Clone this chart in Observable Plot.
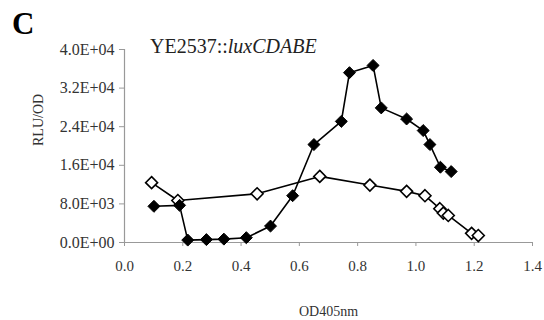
<!DOCTYPE html>
<html>
<head>
<meta charset="utf-8">
<script src="https://cdn.jsdelivr.net/npm/d3@7"></script>
<script src="https://cdn.jsdelivr.net/npm/@observablehq/plot@0.6"></script>
<style>
  html, body { margin: 0; padding: 0; background: #fff; }
  #wrap { position: relative; width: 544px; height: 320px; overflow: hidden; font-family: 'Liberation Serif', 'Times New Roman', serif; }
  #wrap svg { position: absolute; left: 0; top: 0; }
  #wrap svg text { font-family: 'Liberation Serif', 'Times New Roman', serif; }
  #panel { position: absolute; left: 12px; top: 6px; font-size: 31px; font-weight: bold; }
  #title { position: absolute; left: 150px; top: 35px; font-size: 20px; white-space: nowrap; color: #222; }
</style>
</head>
<body>
<div id="wrap">
  <div id="panel">C</div>
  <div id="title">YE2537::<i>luxCDABE</i></div>
</div>
<script>
// Filled diamonds series
const filledOD = [0.101, 0.189, 0.217, 0.281, 0.341, 0.418, 0.501, 0.577, 0.650, 0.744, 0.772, 0.853, 0.881, 0.968, 1.025, 1.048, 1.084, 1.121];
const filledRLU = [7500, 7700, 500, 600, 700, 1000, 3400, 9700, 20300, 25100, 35200, 36700, 27900, 25600, 23200, 20300, 15600, 14700];
// Open diamonds series
const openOD = [0.093, 0.183, 0.455, 0.670, 0.842, 0.968, 1.031, 1.082, 1.094, 1.111, 1.191, 1.214];
const openRLU = [12400, 8700, 10100, 13700, 11900, 10600, 9700, 7000, 6100, 5600, 1900, 1450];
// Axis ticks
const xTicks = [0, 0.2, 0.4, 0.6, 0.8, 1.0, 1.2, 1.4];
const yTicks = [0, 8000, 16000, 24000, 32000, 40000];

const filled = filledOD.map((x, i) => ({x, y: filledRLU[i]}));
const open = openOD.map((x, i) => ({x, y: openRLU[i]}));

const sci = v => {
  const [m, e] = v.toExponential(1).split("e");
  const sign = e[0] === "-" ? "-" : "+";
  return m + "E" + sign + e.replace(/^[+-]/, "").padStart(2, "0");
};

const chart = Plot.plot({
  width: 544,
  height: 320,
  marginLeft: 124,
  marginRight: 12,
  marginTop: 49,
  marginBottom: 78,
  style: {fontFamily: "'Liberation Serif', serif", fontSize: "15px", background: "transparent", color: "#222"},
  x: {domain: [0, 1.4]},
  y: {domain: [0, 40000]},
  marks: [
    Plot.ruleY([0], {stroke: "#999", strokeWidth: 1.2}),
    Plot.ruleX([0], {stroke: "#999", strokeWidth: 1.2}),
    Plot.axisX({ticks: xTicks, tickFormat: d => d.toFixed(1), tickSize: 4, tickPadding: 14, stroke: "#999", fill: "#333",
      label: "OD405nm", labelAnchor: "center", labelArrow: false, labelOffset: 73, fontSize: 15}),
    Plot.axisY({ticks: yTicks, tickFormat: sci, tickSize: 5, tickPadding: 5, stroke: "#999", fill: "#333",
      label: null, fontSize: 16}),
    Plot.text(["RLU/OD"], {frameAnchor: "left", rotate: -90, dx: -86, fontSize: 14, fill: "#333"}),
    Plot.line(open, {x: "x", y: "y", stroke: "black", strokeWidth: 1.6}),
    Plot.line(filled, {x: "x", y: "y", stroke: "black", strokeWidth: 1.6}),
    Plot.dot(open, {x: "x", y: "y", symbol: "diamond2", r: 5.4, fill: "white", stroke: "black", strokeWidth: 1.6}),
    Plot.dot(filled, {x: "x", y: "y", symbol: "diamond2", r: 5.4, fill: "black", stroke: "black", strokeWidth: 1})
  ]
});
chart.querySelectorAll("[aria-label='x-axis label'] text").forEach(t => t.setAttribute("font-size", "14"));
document.getElementById("wrap").prepend(chart);
</script>
</body>
</html>
